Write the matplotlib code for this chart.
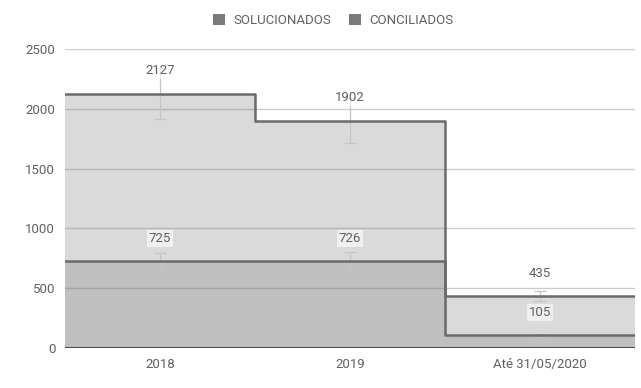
import numpy as np
import matplotlib.pyplot as plt
from matplotlib.patches import Patch

plt.rcParams['font.family'] = ['Roboto', 'DejaVu Sans']

# Data
categorias = ["2018", "2019", "Até 31/05/2020"]
solucionados = [2127, 1902, 435]
conciliados = [725, 726, 105]
margem = 0.10  # intervalo +/- 10%

fig = plt.figure(figsize=(6.41, 3.88), dpi=100)
ax = fig.add_axes([0.1014, 0.1031, 0.8892, 0.7706])

edges = np.arange(len(categorias) + 1)
centros = edges[:-1] + 0.5

def degraus(vals):
    return list(vals) + [vals[-1]]

for serie in (solucionados, conciliados):
    y = degraus(serie)
    ax.fill_between(edges, 0, y, step='post', color='#7a7a7a', alpha=0.28,
                    linewidth=0, zorder=2)
    ax.step(edges, y, where='post', color='#6a6a6a', linewidth=1.8, zorder=4)

# Error bars and value labels
for serie in (solucionados, conciliados):
    vals = np.array(serie, dtype=float)
    ax.errorbar(centros, vals, yerr=vals * margem, fmt='none', ecolor='#c4c4c4',
                elinewidth=0.9, capsize=4, capthick=0.9, zorder=3)
    for x, v in zip(centros, serie):
        ax.annotate(str(v), (x, v), xytext=(0, 16.5), textcoords='offset points',
                    ha='center', va='center', fontsize=9.5, color='#606060',
                    bbox=dict(boxstyle='square,pad=0.15', facecolor='white',
                              alpha=0.6, edgecolor='none'), zorder=5)

ax.set_xlim(0, 3)
ax.set_ylim(0, 2500)
ax.set_yticks([0, 500, 1000, 1500, 2000, 2500])
ax.set_xticks(centros)
ax.set_xticklabels(categorias)
ax.grid(axis='y', color='#cccccc', linewidth=1, zorder=1)
ax.set_axisbelow(True)
ax.axhline(0, color='#333333', linewidth=1.2, zorder=6)
for s in ax.spines.values():
    s.set_visible(False)
ax.tick_params(length=0, labelsize=9.5, labelcolor='#606060')
ax.tick_params(axis='y', pad=7)
ax.tick_params(axis='x', pad=7)

handles = [Patch(facecolor='#7a7a7a', edgecolor='none'),
           Patch(facecolor='#7a7a7a', edgecolor='none')]
fig.legend(handles, ["SOLUCIONADOS", "CONCILIADOS"], loc='center',
           bbox_to_anchor=(0.52, 0.946), ncol=2, frameon=False, fontsize=9.5,
           labelcolor='#606060', handlelength=0.9, handleheight=0.9,
           handletextpad=0.6, columnspacing=1.4)

fig.savefig('out.png', dpi=100)
